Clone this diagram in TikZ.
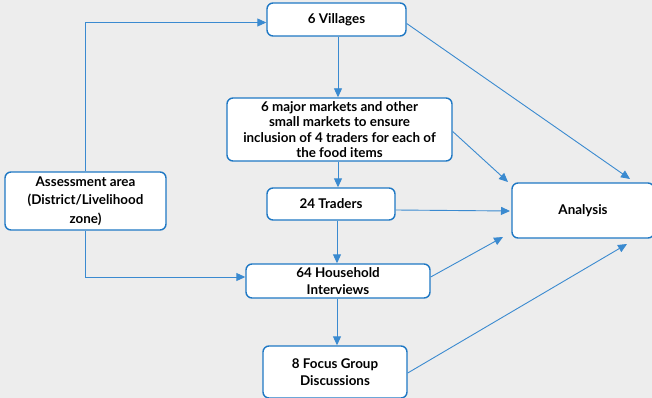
\documentclass[tikz,border=0pt]{standalone}
\usepackage{fontspec}
\setmainfont{Lato}
\usetikzlibrary{arrows.meta}
\definecolor{bg}{HTML}{EDEDED}
\definecolor{boxblue}{HTML}{1F78C4}
\definecolor{lineblue}{HTML}{3A8AD0}
\tikzset{
  box/.style={draw=boxblue, line width=1.4pt, fill=white, rounded corners=6pt,
    inner sep=0pt, align=center, font=\fontsize{13.4}{17}\selectfont\bfseries},
  conn/.style={draw=lineblue, line width=0.9pt, -{Triangle[length=9pt,width=8pt]}}
}
\begin{document}
\begin{tikzpicture}[x=1pt,y=-1pt]
\fill[bg] (0,0) rectangle (652,398);
\useasboundingbox (0,0) rectangle (652,398);
\node[box, minimum width=139pt, minimum height=33pt] (vil) at (336.5,19.5) {6 Villages};
\node[box, minimum width=225pt, minimum height=63pt, font=\fontsize{13.4}{15.5}\selectfont\bfseries] (mkt) at (339.5,129.5)
  {6 major markets and other\\small markets to ensure\\inclusion of 4 traders for each of\\the food items};
\node[box, minimum width=128pt, minimum height=32pt] (trd) at (331,204) {24 Traders};
\node[box, minimum width=184pt, minimum height=34pt] (hh) at (338,281) {64 Household\\Interviews};
\node[box, minimum width=144pt, minimum height=52pt] (fgd) at (335,372) {8 Focus Group\\Discussions};
\node[box, minimum width=161pt, minimum height=58pt, font=\fontsize{13.4}{18.5}\selectfont\bfseries] (ass) at (85.5,201) {Assessment area\\(District/Livelihood\\zone)};
\node[box, minimum width=142pt, minimum height=55pt] (ana) at (583,210.5) {Analysis};
% flow
\draw[conn] (ass.north) |- ([yshift=-3pt]vil.west);
\draw[conn] (ass.south) |- ([yshift=4pt]hh.west);
\draw[conn] ([xshift=1.5pt]vil.south) -- ([xshift=-1.5pt]mkt.north);
\draw[conn] ([xshift=-1.5pt]mkt.south) -- ([xshift=7pt]trd.north);
\draw[conn] ([xshift=6pt]trd.south) -- ([xshift=-1pt]hh.south |- hh.north);
\draw[conn] ([xshift=-1pt]hh.south) -- ([xshift=2pt]fgd.north);
% to analysis
\coordinate (a1) at (630,179);
\coordinate (a2) at (508,182);
\coordinate (a3) at (510,211);
\coordinate (a4) at (503,237);
\coordinate (a5) at (627,244);
\draw[conn] ([yshift=-4pt]vil.east) -- (a1);
\draw[conn] ([yshift=-2pt]mkt.east) -- (a2);
\draw[conn] ([yshift=-6pt]trd.east) -- (a3);
\draw[conn] ([yshift=4pt]hh.east) -- (a4);
\draw[conn] ([yshift=-1pt]fgd.east) -- (a5);
\end{tikzpicture}
\end{document}
